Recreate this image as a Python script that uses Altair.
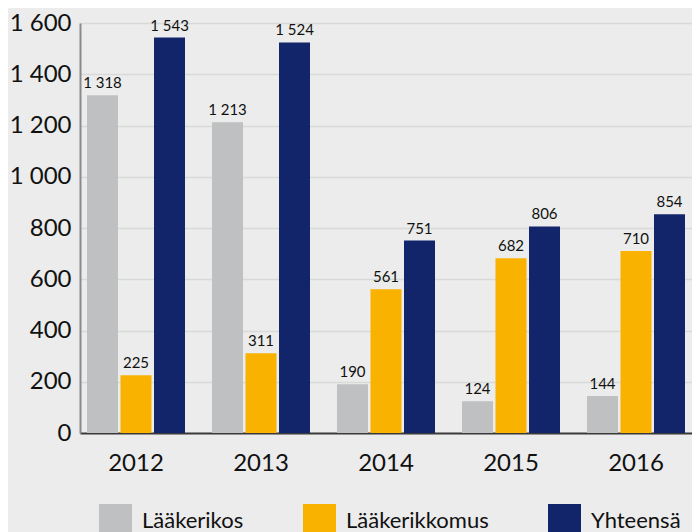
import altair as alt
import pandas as pd

years = ["2012", "2013", "2014", "2015", "2016"]
series = ["Lääkerikos", "Lääkerikkomus", "Yhteensä"]
laakerikos = [1318, 1213, 190, 124, 144]
laakerikkomus = [225, 311, 561, 682, 710]
yhteensa = [1543, 1524, 751, 806, 854]
colors = ["#BFC0C1", "#F9B200", "#12246A"]
y_ticks = [0, 200, 400, 600, 800, 1000, 1200, 1400, 1600]

rows = []
for name, vals in zip(series, [laakerikos, laakerikkomus, yhteensa]):
    for yr, v in zip(years, vals):
        rows.append({"Vuosi": yr, "Sarja": name, "Arvo": v,
                     "Teksti": f"{v:,}".replace(",", " ")})
df = pd.DataFrame(rows)

FONT = "Lato"

x = alt.X("Vuosi:N", sort=years, title=None,
          scale=alt.Scale(paddingInner=0.216, paddingOuter=0.056),
          axis=alt.Axis(labelAngle=0, labelFontSize=24, labelColor="#111111",
                        labelFont=FONT, ticks=False, labelPadding=18,
                        domainColor="#3a3a3a", domainWidth=2, grid=False))
xo = alt.XOffset("Sarja:N", sort=series,
                 scale=alt.Scale(paddingInner=0.075, paddingOuter=0))
y = alt.Y("Arvo:Q", title=None,
          scale=alt.Scale(domain=[0, 1600], nice=False),
          axis=alt.Axis(values=y_ticks, labelFontSize=24, labelColor="#111111",
                        labelFont=FONT, ticks=False, labelPadding=9,
                        labelExpr="replace(format(datum.value, ','), ',', ' ')",
                        domainColor="#8a8a8a", domainWidth=2,
                        gridColor="#d8d9d8", gridWidth=1.5))

bars = alt.Chart(df).mark_bar().encode(
    x=x, xOffset=xo, y=y,
    color=alt.Color("Sarja:N", sort=series,
                    scale=alt.Scale(domain=series, range=colors),
                    legend=alt.Legend(title=None, orient="none", direction="horizontal",
                                      legendX=19, legendY=481, padding=0,
                                      symbolType="square", symbolSize=1089,
                                      symbolStrokeWidth=0, symbolOpacity=1,
                                      labelFontSize=22, labelFont=FONT,
                                      labelColor="#111111", labelOffset=10,
                                      columnPadding=59, labelLimit=300)),
)

labels = alt.Chart(df).mark_text(baseline="bottom", dy=-4, fontSize=15,
                                 font=FONT, color="#111111").encode(
    x=x, xOffset=xo, y=y, text="Teksti:N")

chart = (bars + labels).properties(
    width=612, height=410,
    autosize=alt.AutoSizeParams(type="none"),
    padding={"left": 72, "top": 15, "right": 0, "bottom": 99},
    background="#EBECEB",
).configure_view(stroke=None, fill="#EBECEB")

chart.save("out.html", embed_options={"renderer": "svg", "actions": False})
